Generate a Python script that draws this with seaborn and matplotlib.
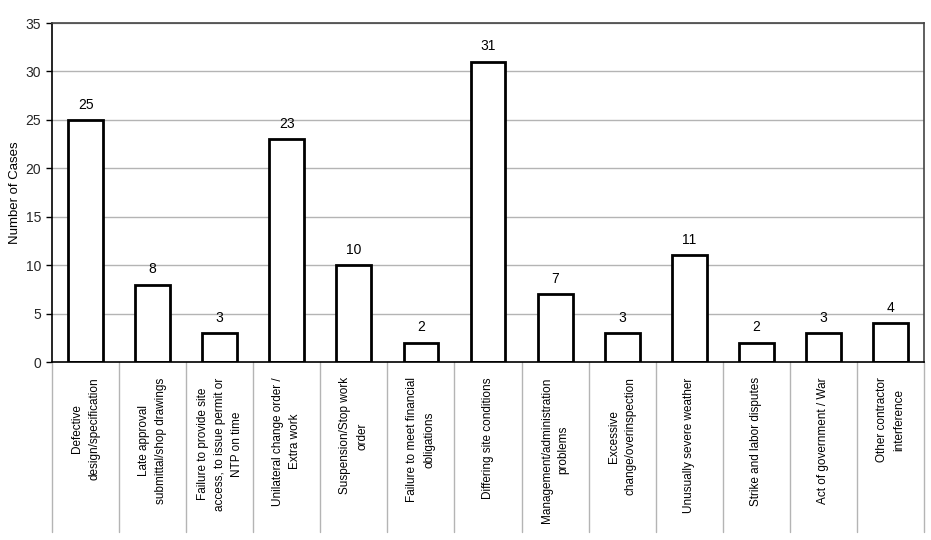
import matplotlib
matplotlib.use("Agg")
import matplotlib.pyplot as plt
import matplotlib.transforms as mtransforms
import seaborn as sns
import pandas as pd

# claim types and number of cases
categories = [
    "Defective\ndesign/specification",
    "Late approval\nsubmittal/shop drawings",
    "Failure to provide site\naccess, to issue permit or\nNTP on time",
    "Unilateral change order /\nExtra work",
    "Suspension/Stop work\norder",
    "Failure to meet financial\nobligations",
    "Differing site conditions",
    "Management/administration\nproblems",
    "Excessive\nchange/overinspection",
    "Unusually severe weather",
    "Strike and labor disputes",
    "Act of government / War",
    "Other contractor\ninterference",
]
cases = [25, 8, 3, 23, 10, 2, 31, 7, 3, 11, 2, 3, 4]
y_ticks = [0, 5, 10, 15, 20, 25, 30, 35]

df = pd.DataFrame({"Category": categories, "Cases": cases})

sns.set_style("white")
plt.rcParams["font.family"] = ["Liberation Sans", "DejaVu Sans"]

fig = plt.figure(figsize=(9.31, 5.4), dpi=100)
ax = fig.add_axes([0.0559, 0.3296, 0.9366, 0.6278])

sns.barplot(data=df, x="Category", y="Cases", color="white", edgecolor="black",
            linewidth=2, width=0.52, saturation=1, ax=ax)

ax.set_ylim(0, 35)
ax.set_xlim(-0.5, len(categories) - 0.5)
ax.set_yticks(y_ticks)
ax.set_yticklabels([str(t) for t in y_ticks], fontsize=10)
ax.yaxis.grid(True, color="#b4b4b4", linewidth=1)
ax.set_axisbelow(True)
ax.tick_params(axis="y", left=True, length=4, width=1, color="black", pad=4)
ax.set_xticks([])
ax.set_xlabel("")
ax.set_ylabel("Number of Cases", fontsize=9.5, color="black")
ax.yaxis.set_label_coords(-0.036, 0.5)

for side in ["left", "bottom"]:
    ax.spines[side].set_color("black")
    ax.spines[side].set_linewidth(1.2)
for side in ["top", "right"]:
    ax.spines[side].set_color("#444444")
    ax.spines[side].set_linewidth(1.2)

# value labels above bars
for container in ax.containers:
    ax.bar_label(container, padding=6, fontsize=10, color="black")

# category table below the axis
trans = mtransforms.blended_transform_factory(ax.transData, ax.transAxes)
for i in range(len(categories) + 1):
    ax.plot([i - 0.5, i - 0.5], [0, -0.50], transform=trans, color="#b4b4b4",
            linewidth=1, clip_on=False)
for i, label in enumerate(categories):
    ax.text(i, -0.045, label, transform=trans, rotation=90, ha="center", va="top",
            multialignment="center", fontsize=8.5, linespacing=1.55, color="black")

fig.savefig("out.png", dpi=100, facecolor="white")
